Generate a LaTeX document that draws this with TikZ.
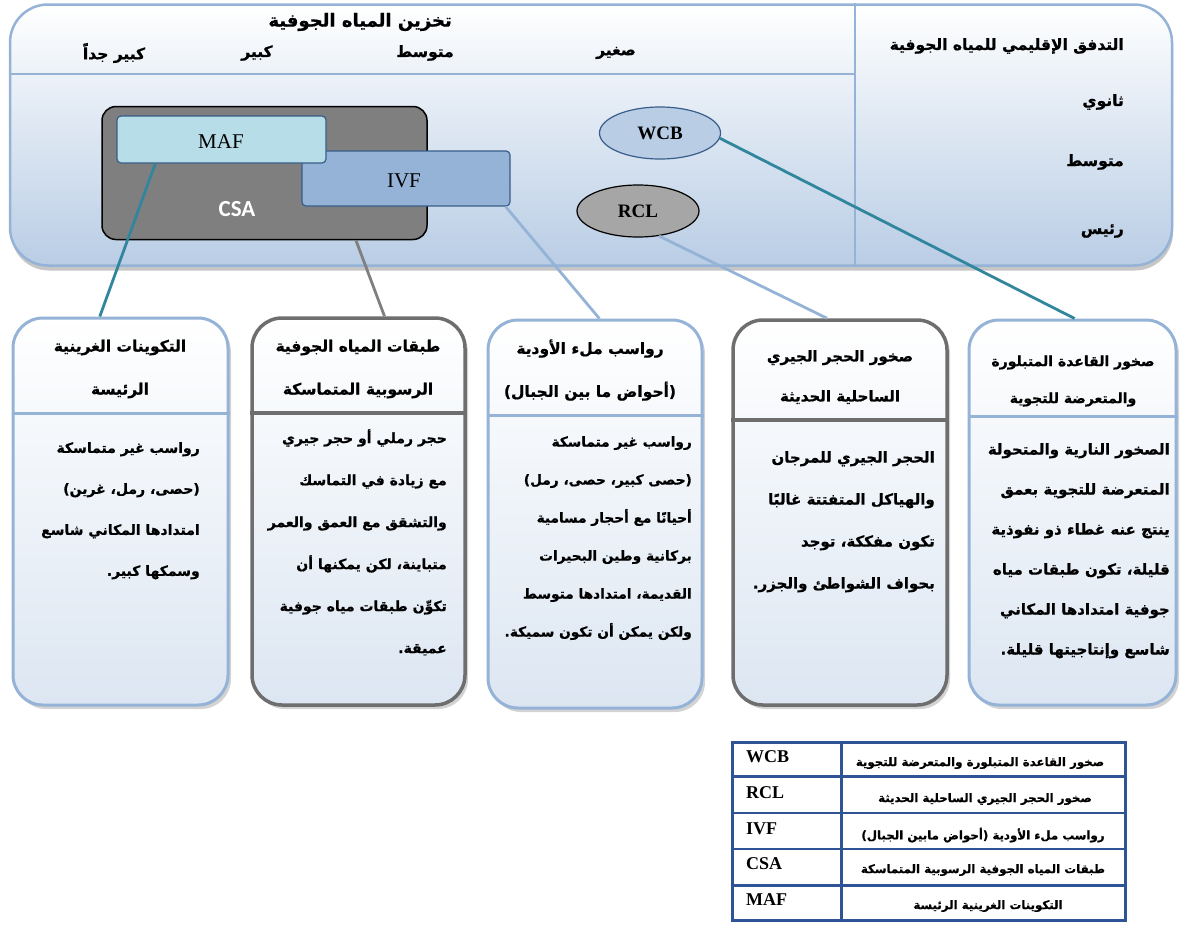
\documentclass[tikz,border=0pt]{standalone}
\usepackage{fontspec}
\setmainfont{Liberation Serif}
\newfontfamily\arabicfont[Script=Arabic, BoldFeatures={FakeBold=0.8}]{DejaVu Sans}
\newfontfamily\labelsans{Carlito}
\TeXXeTstate=1
\usetikzlibrary{shapes.geometric,shadows,calc}

\newcommand{\ar}[1]{\beginR #1\endR}

\definecolor{paneledge}{HTML}{95B3D7}
\definecolor{panelbot}{HTML}{B9CDE5}
\definecolor{boxbot}{HTML}{DCE6F2}
\definecolor{linkteal}{HTML}{31859C}
\definecolor{grayedge}{HTML}{6E6E6E}
\definecolor{csagray}{HTML}{7F7F7F}
\definecolor{maffill}{HTML}{B7DEE8}
\definecolor{ivffill}{HTML}{95B3D7}
\definecolor{boxline}{HTML}{385D8A}
\definecolor{wcbfill}{HTML}{B9CDE5}
\definecolor{rclfill}{HTML}{A6A6A6}
\definecolor{tableblue}{HTML}{2F5496}

\tikzset{
  panel/.style={draw=paneledge, line width=2.5pt, rounded corners=38pt,
    top color=white, bottom color=panelbot,
    drop shadow={shadow xshift=1pt, shadow yshift=-5pt, opacity=0.45}},
  infobox/.style={rounded corners=30pt, line width=3pt,
    top color=white, bottom color=boxbot,
    drop shadow={shadow xshift=3pt, shadow yshift=-4pt, opacity=0.35}},
  bluebox/.style={infobox, draw=paneledge},
  graybox/.style={infobox, draw=grayedge, line width=3.5pt},
  arhead/.style={font=\arabicfont\bfseries\fontsize{18}{20}\selectfont, inner sep=0pt},
  arlabel/.style={font=\arabicfont\bfseries\fontsize{15.5}{20}\selectfont, inner sep=0pt},
  artitle/.style={font=\arabicfont\bfseries\fontsize{15.5}{43}\selectfont, inner sep=0pt, align=center},
  arbody/.style={font=\arabicfont\bfseries\fontsize{14}{41}\selectfont, inner sep=0pt, align=right, anchor=north east},
  tagbox/.style={draw=boxline, line width=1.2pt, rounded corners=4pt, inner sep=0pt},
  tagtext/.style={font=\fontsize{21}{24}\selectfont, inner sep=0pt},
  oval/.style={ellipse, line width=1.2pt, inner sep=0pt, font=\bfseries\fontsize{19}{22}\selectfont},
  link/.style={line width=2.8pt},
  tbltag/.style={font=\bfseries\fontsize{18}{20}\selectfont, inner sep=0pt, anchor=west},
  tbltext/.style={font=\arabicfont\bfseries\fontsize{11.8}{15}\selectfont, inner sep=0pt},
}

\begin{document}
\begin{tikzpicture}[x=1pt, y=-1pt]
\useasboundingbox (0,0) rectangle (1182,924);

% ---------- upper panel ----------
\node[panel, minimum width=1162pt, minimum height=261pt] (panel) at (591,135) {};
\coordinate (split) at (855,74);
\draw[paneledge, line width=2.5pt] (panel.west |- split) -- (split);
\draw[paneledge, line width=2.5pt] (split |- panel.north) -- (split |- panel.south);

\node[arhead, anchor=east] (storage) at (452,22) {\ar{تخزين المياه الجوفية}};
\node[arlabel] (vlarge) at (114,53) {\ar{كبير جداً}};
\node[arlabel] (large) at (257,53) {\ar{كبير}};
\node[arlabel] (medium) at (425,53) {\ar{متوسط}};
\node[arlabel] (small) at (616,53) {\ar{صغير}};

\node[arlabel, anchor=east] (flow) at (1124,46) {\ar{التدفق الإقليمي للمياه الجوفية}};
\node[arlabel, anchor=east] (second) at (1124,102) {\ar{ثانوي}};
\node[arlabel, anchor=east] (inter) at (1124,162) {\ar{متوسط}};
\node[arlabel, anchor=east] (major) at (1124,231) {\ar{رئيس}};

% ---------- aquifer classes ----------
\node[draw=black, line width=1.5pt, fill=csagray, rounded corners=14pt,
      minimum width=325pt, minimum height=133pt, inner sep=0pt] (csa) at (264.5,173) {};
\node[font=\labelsans\bfseries\fontsize{23}{26}\selectfont, text=white, inner sep=0pt] (csatext) at (237,209) {CSA};
\node[tagbox, fill=ivffill, minimum width=208pt, minimum height=55pt] (ivf) at (406,178.5) {};
\node[tagtext] (ivftext) at (404,181) {IVF};
\node[tagbox, fill=maffill, minimum width=209pt, minimum height=47pt] (maf) at (221.5,139.5) {};
\node[tagtext] (maftext) at (221,142) {MAF};

\node[oval, draw=boxline, fill=wcbfill, minimum width=121pt, minimum height=52pt] (wcb) at (660,133) {WCB};
\node[oval, draw=black, fill=rclfill, minimum width=122pt, minimum height=52pt] (rcl) at (638,211) {RCL};

% ---------- description boxes ----------
\node[bluebox, minimum width=215pt, minimum height=387pt] (b1) at (120.5,511.5) {};
\node[graybox, minimum width=213pt, minimum height=387pt] (b2) at (358.5,511.5) {};
\node[bluebox, minimum width=214pt, minimum height=388pt] (b3) at (595,514) {};
\node[graybox, minimum width=214pt, minimum height=385pt] (b4) at (840,512.5) {};
\node[bluebox, minimum width=207pt, minimum height=385pt] (b5) at (1072.5,512.5) {};

\draw[paneledge, line width=3pt] (b1.west |- 0,413) -- (b1.east |- 0,413);
\draw[grayedge, line width=3.5pt] (b2.west |- 0,413) -- (b2.east |- 0,413);
\draw[paneledge, line width=3pt] (b3.west |- 0,415) -- (b3.east |- 0,415);
\draw[grayedge, line width=3.5pt] (b4.west |- 0,420) -- (b4.east |- 0,420);
\draw[paneledge, line width=3pt] (b5.west |- 0,416) -- (b5.east |- 0,416);

\node[artitle] (t1) at (120,369) {\ar{التكوينات الغرينية}\\\ar{الرئيسة}};
\node[artitle] (t2) at (358,369) {\ar{طبقات المياه الجوفية}\\\ar{الرسوبية المتماسكة}};
\node[artitle] (t3) at (590,370) {\ar{رواسب ملء الأودية}\\\ar{(أحواض ما بين الجبال)}};
\node[artitle, font=\arabicfont\bfseries\fontsize{15}{40}\selectfont] (t4) at (840,377) {\ar{صخور الحجر الجيري}\\\ar{الساحلية الحديثة}};
\node[artitle, font=\arabicfont\bfseries\fontsize{14}{37}\selectfont] (t5) at (1073,381) {\ar{صخور القاعدة المتبلورة}\\\ar{والمتعرضة للتجوية}};

\node[arbody] (d1) at (200,442) {\ar{رواسب غير متماسكة}\\\ar{(حصى، رمل، غرين)}\\\ar{امتدادها المكاني شاسع}\\\ar{وسمكها كبير.}};
\node[arbody, font=\arabicfont\bfseries\fontsize{14}{42}\selectfont] (d2) at (447,429) {\ar{حجر رملي أو حجر جيري}\\\ar{مع زيادة في التماسك}\\\ar{والتشقق مع العمق والعمر}\\\ar{متباينة، لكن يمكنها أن}\\\ar{تكوِّن طبقات مياه جوفية}\\\ar{عميقة.}};
\node[arbody, font=\arabicfont\bfseries\fontsize{13.7}{38}\selectfont] (d3) at (692,436) {\ar{رواسب غير متماسكة}\\\ar{(حصى كبير، حصى، رمل)}\\\ar{أحيانًا مع أحجار مسامية}\\\ar{بركانية وطين البحيرات}\\\ar{القديمة، امتدادها متوسط}\\\ar{ولكن يمكن أن تكون سميكة.}};
\node[arbody, font=\arabicfont\bfseries\fontsize{15}{42}\selectfont] (d4) at (935,451) {\ar{الحجر الجيري للمرجان}\\\ar{والهياكل المتفتتة غالبًا}\\\ar{تكون مفككة، توجد}\\\ar{بحواف الشواطئ والجزر.}};
\node[arbody, font=\arabicfont\bfseries\fontsize{15}{40}\selectfont] (d5) at (1170,443) {\ar{الصخور النارية والمتحولة}\\\ar{المتعرضة للتجوية بعمق}\\\ar{ينتج عنه غطاء ذو نفوذية}\\\ar{قليلة، تكون طبقات مياه}\\\ar{جوفية امتدادها المكاني}\\\ar{شاسع وإنتاجيتها قليلة.}};

% ---------- connectors ----------
\draw[link, linkteal] ($(maf.south west)!0.185!(maf.south east)$) -- ($(b1.north west)!0.405!(b1.north east)$);
\draw[link, csagray] ($(csa.south west)!0.78!(csa.south east)$) -- ($(b2.north west)!0.62!(b2.north east)$);
\draw[link, paneledge] ($(ivf.south east)+(-5,0)$) -- ($(b3.north west)!0.52!(b3.north east)$);
\draw[link, paneledge] (rcl.-50) -- ($(b4.north west)!0.44!(b4.north east)$);
\draw[link, linkteal] (wcb.-5) -- ($(b5.north west)!0.51!(b5.north east)$);

% ---------- legend table ----------
\node[draw=tableblue, line width=3pt, minimum width=393pt, minimum height=178pt, inner sep=0pt] (tbl) at (928.5,831) {};
\foreach \k in {1,2,3,4}
  \draw[tableblue, line width=2.5pt] ($(tbl.north west)!\k/5!(tbl.south west)$) -- ($(tbl.north east)!\k/5!(tbl.south east)$);
\draw[tableblue, line width=2.5pt] ($(tbl.north west)+(111,0)$) -- ($(tbl.south west)+(111,0)$);

\node[tbltag] (k1) at (746,757) {WCB};
\node[tbltag] (k2) at (746,793) {RCL};
\node[tbltag] (k3) at (746,829) {IVF};
\node[tbltag] (k4) at (746,864) {CSA};
\node[tbltag] (k5) at (746,900) {MAF};
\node[tbltext] (v1) at (980,763) {\ar{صخور القاعدة المتبلورة والمتعرضة للتجوية}};
\node[tbltext] (v2) at (985,799) {\ar{صخور الحجر الجيري الساحلية الحديثة}};
\node[tbltext] (v3) at (983,835) {\ar{رواسب ملء الأودية (أحواض مابين الجبال)}};
\node[tbltext] (v4) at (983,870) {\ar{طبقات المياه الجوفية الرسوبية المتماسكة}};
\node[tbltext] (v5) at (988,906) {\ar{التكوينات الغرينية الرئيسة}};
\end{tikzpicture}
\end{document}
